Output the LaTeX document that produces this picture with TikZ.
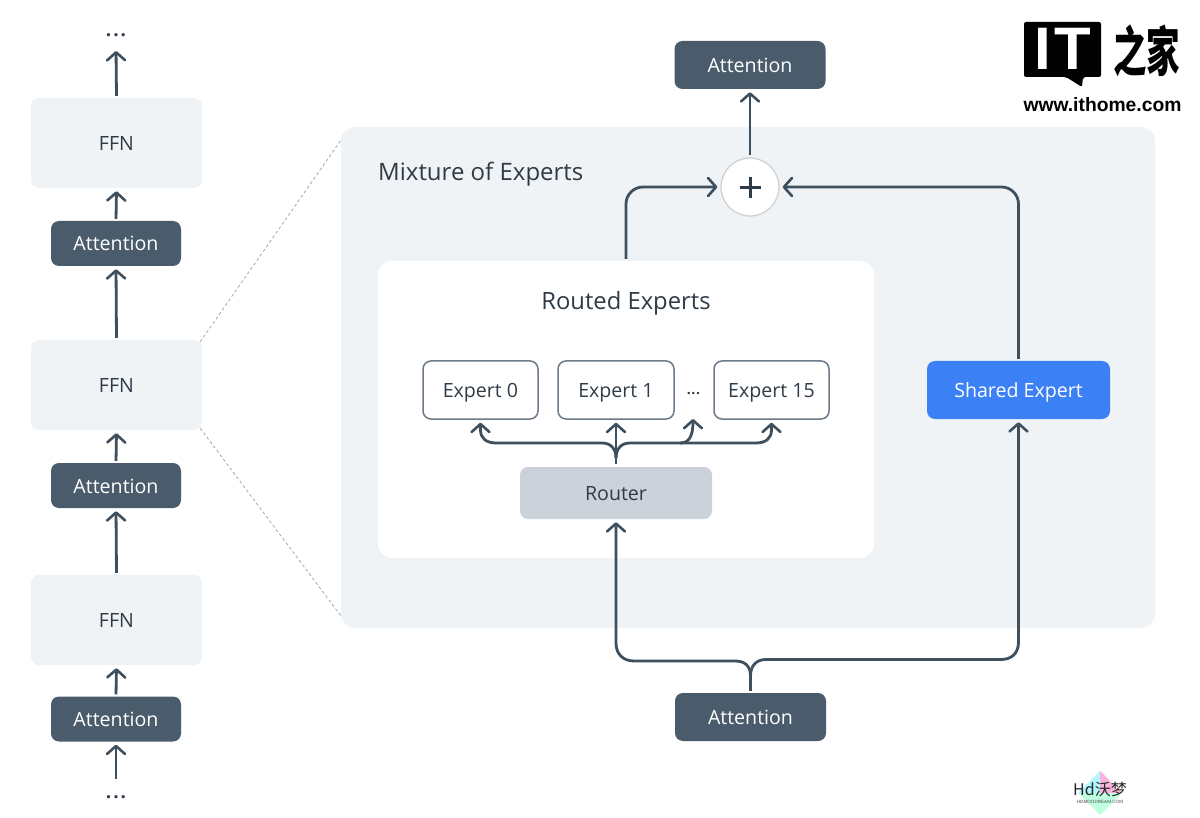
\documentclass[tikz,border=0pt]{standalone}
\usepackage{fontspec}
\setmainfont{Open Sans}
\newfontfamily\logofont{Liberation Sans}
\newfontfamily\cjkfont{Noto Sans CJK SC}
\usetikzlibrary{arrows.meta,calc}
\definecolor{ink}{HTML}{2F3B47}
\definecolor{slate}{HTML}{4A5C6C}
\definecolor{wire}{HTML}{3E4F5E}
\definecolor{pale}{HTML}{F0F3F6}
\definecolor{routerc}{HTML}{CBD2D9}
\definecolor{bluec}{HTML}{3C80F6}
\definecolor{edgec}{HTML}{6C7A87}
\tikzset{
  txt/.style={font=\fontsize{19.6}{22}\selectfont,text=ink,inner sep=0pt,text height=16pt,text depth=1pt},
  boxbase/.style={rounded corners=8pt,inner sep=0pt,txt},
  ffn/.style={boxbase,fill=pale,minimum width=171pt,minimum height=90pt},
  attnS/.style={boxbase,fill=slate,text=white,minimum width=130pt,minimum height=45pt},
  attnL/.style={boxbase,fill=slate,text=white,minimum width=151pt,minimum height=48pt},
  expertbox/.style={boxbase,fill=white,draw=edgec,line width=1.5pt,minimum width=115pt,minimum height=58pt},
  conn/.style={draw=wire,line width=2.8pt,-{Straight Barb[length=8pt,width=18pt,line width=2.6pt,round]},shorten >=3pt,shorten <=2pt},
  plain/.style={draw=wire,line width=2.8pt},
  dots/.style={font=\fontsize{19}{22}\selectfont\bfseries,text=ink,inner sep=0pt},
}
\begin{document}
\begin{tikzpicture}[x=1pt,y=-1pt]
\useasboundingbox (0,0) rectangle (1200,818);
\fill[white] (0,0) rectangle (1200,818);
% panels
\node[rounded corners=14pt,fill=pale,minimum width=814pt,minimum height=501pt,inner sep=0pt] (panel) at (748,377.5) {};
\node[rounded corners=14pt,fill=white,minimum width=496pt,minimum height=297pt,inner sep=0pt] (routed) at (626,409.5) {};
\node[txt,anchor=west,font=\fontsize{24}{26}\selectfont] (mixlabel) at (378,173) {Mixture of Experts};
\node[txt,font=\fontsize{23.8}{26}\selectfont] (routedlabel) at (626,302.5) {Routed Experts};
% left column
\node[dots] (dotstop) at (116,35.5) {.\kern2pt.\kern2pt.};
\node[ffn] (ffn1) at (116.5,143) {FFN};
\node[attnS] (att1) at (116,243.5) {Attention};
\node[ffn] (ffn2) at (116.5,385) {FFN};
\node[attnS] (att2) at (116,485.5) {Attention};
\node[ffn] (ffn3) at (116.5,620) {FFN};
\node[attnS] (att3) at (116,719) {Attention};
\node[dots] (dotsbot) at (116,797.5) {.\kern2pt.\kern2pt.};
\coordinate (topin) at (116,48);
\coordinate (botin) at (116,781);
\draw[conn] (ffn1.north) -- (topin);
\draw[conn] (att1.north) -- (ffn1.south);
\draw[conn] (ffn2.north) -- (att1.south);
\draw[conn] (att2.north) -- (ffn2.south);
\draw[conn] (ffn3.north) -- (att2.south);
\draw[conn] (att3.north) -- (ffn3.south);
\draw[conn] (botin) -- (att3.south);
% zoom lines
\coordinate (zt) at (341,140);
\coordinate (zb) at (341,616);
\draw[gray!75,line width=.7pt,dash pattern=on 3pt off 2.5pt] (ffn2.north east) ++(-2,2) -- (zt);
\draw[gray!75,line width=.7pt,dash pattern=on 3pt off 2.5pt] (ffn2.south east) ++(-2,-2) -- (zb);
% right part
\node[attnL] (atttop) at (750,65) {Attention};
\node[attnL] (attbot) at (750.5,717) {Attention};
\node[circle,fill=white,draw=black!18,line width=1.3pt,minimum size=58pt,inner sep=0pt] (plus) at (750,187) {};
\draw[ink,line width=3pt] (739.5,187.5) -- (760.5,187.5) (750,177) -- (750,198);
\node[expertbox] (e0) at (480.5,390) {Expert 0};
\node[expertbox,minimum width=116pt] (e1) at (616,390) {Expert 1};
\node[expertbox,minimum width=115pt] (e15) at (771.5,390) {Expert 15};
\node[txt,font=\fontsize{14}{18}\selectfont\bfseries] (edots) at (693.5,387) {.\kern.7pt.\kern.7pt.};
\node[boxbase,fill=routerc,minimum width=192pt,minimum height=52pt] (router) at (616,493) {Router};
\node[boxbase,fill=bluec,text=white,minimum width=183pt,minimum height=58pt] (shared) at (1018.5,390) {Shared Expert};
% connectors
\draw[conn] (plus.north) -- (atttop.south);
\draw[conn,rounded corners=17pt] (routed.north) |- (plus.west);
\draw[conn,rounded corners=17pt] (shared.north) |- (plus.east);
\coordinate (forkb) at (750.5,676);
\draw[plain,shorten <=2pt] (attbot.north) -- (forkb);
\draw[conn,shorten <=0pt] (forkb) .. controls (750.5,666) and (745,661) .. (735,661) -- (634,661) .. controls (623,661) and (616,654) .. (616,643) -- (router.south);
\draw[conn,shorten <=0pt] (forkb) .. controls (750.5,666) and (756,659.5) .. (766,659.5) -- (1001,659.5) .. controls (1012,659.5) and (1018.5,653) .. (1018.5,642) -- (shared.south);
% router fan
\coordinate (fanin) at (616,464);
\coordinate (fanfork) at (616,458);
\coordinate (e15dots) at (693,419);
\draw[conn,shorten <=0pt] (fanin) -- (e1.south);
\draw[conn,shorten <=0pt] (fanfork) .. controls (616,449) and (611,443) .. (602,443) -- (496,443) .. controls (486,443) and (480.5,438) .. (480.5,430) -- (e0.south);
\draw[conn,shorten <=0pt] (fanfork) .. controls (616,449) and (621,443) .. (630,443) -- (756,443) .. controls (766,443) and (771.5,438) .. (771.5,430) -- (e15.south);
\coordinate (fanmid) at (680,443);
\draw[conn,shorten <=0pt,shorten >=0pt] (fanmid) .. controls (688,443) and (693,438) .. (e15dots);
% IT logo
\fill[black,rounded corners=2pt] (1024,22) -- (1101,22) -- (1101,77) -- (1083,77) -- (1082,87) -- (1066,77) -- (1024,77) -- cycle;
\node[inner sep=0pt,text=white,font=\logofont\bfseries\fontsize{60}{60}\selectfont] (logoI) at (1043,49) {I};
\node[inner sep=0pt,text=white,font=\logofont\bfseries\fontsize{60}{60}\selectfont] (logoT) at (1073,49) {T};
\node[inner sep=0pt,yscale=1.6,font=\cjkfont\bfseries\fontsize{33.5}{34}\selectfont] (logocn) at (1146.5,51) {之家};
\node[inner sep=0pt,font=\logofont\bfseries\fontsize{19.3}{22}\selectfont] (logourl) at (1102.5,104.5) {www.ithome.com};
% watermark
\fill[blue!10!cyan!30!white] (1078,793) -- (1100,771) -- (1100,793) -- cycle;
\fill[magenta!30!white] (1100,771) -- (1122,793) -- (1100,793) -- cycle;
\fill[green!50!cyan!25!white] (1078,793) -- (1100,815) -- (1122,793) -- cycle;
\node[inner sep=0pt,font=\cjkfont\fontsize{16}{16}\selectfont,text=black!85] (wm) at (1100,789) {Hd沃梦};
\node[inner sep=0pt,font=\logofont\fontsize{4.6}{5}\selectfont,text=black!70] (wmurl) at (1100,802) {HDMOODREAM.COM};
\end{tikzpicture}
\end{document}
